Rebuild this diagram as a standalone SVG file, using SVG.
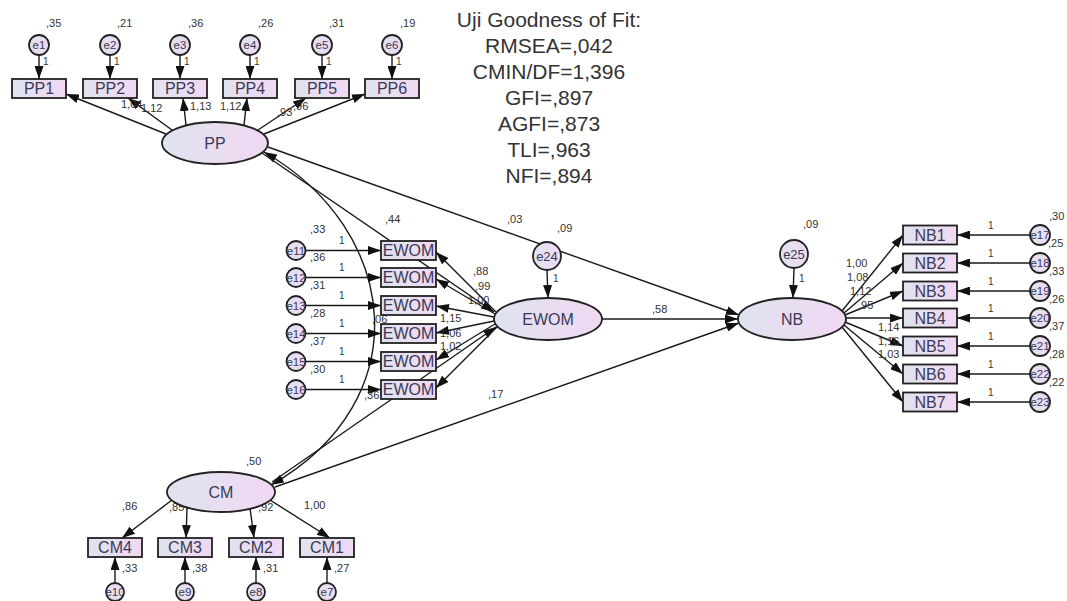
<svg xmlns="http://www.w3.org/2000/svg" width="1067" height="601" viewBox="0 0 1067 601">
<defs>
<linearGradient id="g" x1="0" y1="0" x2="1" y2="0">
<stop offset="0" stop-color="#dfe3ef"/>
<stop offset="1" stop-color="#f1d8f3"/>
</linearGradient>
<marker id="ah" viewBox="0 0 13 9" refX="13" refY="4.5" markerWidth="13" markerHeight="9" orient="auto-start-reverse" markerUnits="userSpaceOnUse">
<path d="M0,0 L13,4.5 L0,9 z" fill="#111"/>
</marker>
<style>
.sh{fill:url(#g);stroke:#222;stroke-width:1.8}
.t{font-family:"Liberation Sans",Arial,sans-serif;font-size:16px;fill:#3a3a55;text-anchor:middle}
.et{font-family:"Liberation Sans",Arial,sans-serif;font-size:11.5px;fill:#3a3a55;text-anchor:middle}
.lb{font-family:"Liberation Sans",Arial,sans-serif;font-size:11px;fill:#333}
.one{font-family:"Liberation Sans",Arial,sans-serif;font-size:10px;fill:#333}
.fit{font-family:"Liberation Sans",Arial,sans-serif;font-size:21px;fill:#333;text-anchor:middle}
.c{stroke:#1a1a1a;stroke-width:1.4;fill:none}
.a{marker-end:url(#ah)}
.b{marker-start:url(#ah);marker-end:url(#ah)}
</style>
</defs>
<rect width="1067" height="601" fill="#fff"/>

<g id="fit">
<text class="fit" x="549" y="27">Uji Goodness of Fit:</text>
<text class="fit" x="549" y="53">RMSEA=,042</text>
<text class="fit" x="549" y="79">CMIN/DF=1,396</text>
<text class="fit" x="549" y="105">GFI=,897</text>
<text class="fit" x="549" y="131">AGFI=,873</text>
<text class="fit" x="549" y="157">TLI=,963</text>
<text class="fit" x="549" y="183">NFI=,894</text>
</g>

<g id="connectors">
<path class="c a" d="M39,55 L39,79"/>
<path class="c a" d="M110,55 L110,79"/>
<path class="c a" d="M180,55 L180,79"/>
<path class="c a" d="M250,55 L250,79"/>
<path class="c a" d="M322,55 L322,79"/>
<path class="c a" d="M392,55 L392,79"/>
<path class="c a" d="M166,134 L66,94"/>
<path class="c a" d="M172,130 L128,98"/>
<path class="c a" d="M186,125 L183,98"/>
<path class="c a" d="M244,125 L247,98"/>
<path class="c a" d="M258,130 L306,98"/>
<path class="c a" d="M264,134 L365,94"/>
<path class="c b" d="M264,152 C400,230 420,400 271,485"/>
<path class="c a" d="M262,153 L494,312"/>
<path class="c a" d="M272,482 L496,327"/>
<path class="c a" d="M268,147 L739,315"/>
<path class="c a" d="M602,319 L738,319"/>
<path class="c a" d="M275,487 L739,323"/>
<path class="c a" d="M547,270 L548,298"/>
<path class="c a" d="M794,268 L793,298"/>
<path class="c a" d="M305.5,250.5 L381,250.5"/>
<path class="c a" d="M305.5,277.5 L381,277.5"/>
<path class="c a" d="M305.5,305.5 L381,305.5"/>
<path class="c a" d="M305.5,333.5 L381,333.5"/>
<path class="c a" d="M305.5,361.5 L381,361.5"/>
<path class="c a" d="M305.5,389.5 L381,389.5"/>
<path class="c a" d="M496,312 L436,252"/>
<path class="c a" d="M495,314 L436,279"/>
<path class="c a" d="M494,317 L436,306"/>
<path class="c a" d="M494,321 L436,333"/>
<path class="c a" d="M495,324 L436,360"/>
<path class="c a" d="M497,327 L436,388"/>
<path class="c a" d="M842,311 L903,235"/>
<path class="c a" d="M844,313 L903,263"/>
<path class="c a" d="M845,315 L903,291"/>
<path class="c a" d="M846,318 L903,318"/>
<path class="c a" d="M845,322 L903,346"/>
<path class="c a" d="M844,325 L903,374"/>
<path class="c a" d="M842,327 L903,402"/>
<path class="c a" d="M1030,235 L957,235"/>
<path class="c a" d="M1030,263 L957,263"/>
<path class="c a" d="M1030,291 L957,291"/>
<path class="c a" d="M1030,318 L957,318"/>
<path class="c a" d="M1030,346 L957,346"/>
<path class="c a" d="M1030,374 L957,374"/>
<path class="c a" d="M1030,402 L957,402"/>
<path class="c a" d="M172,500 L122,538"/>
<path class="c a" d="M187,508 L186,538"/>
<path class="c a" d="M250,508 L254,538"/>
<path class="c a" d="M270,500 L330,538"/>
<path class="c a" d="M115,583 L115,557"/>
<path class="c a" d="M185,583 L185,557"/>
<path class="c a" d="M256,583 L256,557"/>
<path class="c a" d="M327,583 L327,557"/>
</g>

<g id="labels">
<text class="lb" x="46" y="27">,35</text>
<text class="lb" x="117" y="27">,21</text>
<text class="lb" x="188" y="27">,36</text>
<text class="lb" x="258" y="27">,26</text>
<text class="lb" x="329" y="27">,31</text>
<text class="lb" x="400" y="27">,19</text>
<text class="one" x="43" y="65">1</text>
<text class="one" x="114" y="65">1</text>
<text class="one" x="184" y="65">1</text>
<text class="one" x="254" y="65">1</text>
<text class="one" x="326" y="65">1</text>
<text class="one" x="396" y="65">1</text>
<text class="lb" x="121" y="108">1,04</text>
<text class="lb" x="141" y="112">1,12</text>
<text class="lb" x="190" y="110">1,13</text>
<text class="lb" x="220" y="110">1,12</text>
<text class="lb" x="277" y="116">,93</text>
<text class="lb" x="293" y="110">,96</text>
<text class="lb" x="385" y="223">,44</text>
<text class="lb" x="372" y="323">,06</text>
<text class="lb" x="364" y="399">,36</text>
<text class="lb" x="507" y="223">,03</text>
<text class="lb" x="488" y="398">,17</text>
<text class="lb" x="652" y="313">,58</text>
<text class="lb" x="557" y="232">,09</text>
<text class="one" x="553" y="282">1</text>
<text class="lb" x="803" y="228">,09</text>
<text class="one" x="799" y="282">1</text>
<text class="lb" x="310" y="233">,33</text>
<text class="lb" x="310" y="261">,36</text>
<text class="lb" x="310" y="289">,31</text>
<text class="lb" x="310" y="317">,28</text>
<text class="lb" x="310" y="345">,37</text>
<text class="lb" x="310" y="373">,30</text>
<text class="one" x="339" y="244">1</text>
<text class="one" x="339" y="271">1</text>
<text class="one" x="339" y="299">1</text>
<text class="one" x="339" y="327">1</text>
<text class="one" x="339" y="355">1</text>
<text class="one" x="339" y="383">1</text>
<text class="lb" x="473" y="275">,88</text>
<text class="lb" x="475" y="290">,99</text>
<text class="lb" x="468" y="304">1,00</text>
<text class="lb" x="440" y="322">1,15</text>
<text class="lb" x="440" y="337">1,06</text>
<text class="lb" x="440" y="350">1,02</text>
<text class="lb" x="846" y="267">1,00</text>
<text class="lb" x="847" y="281">1,08</text>
<text class="lb" x="850" y="295">1,12</text>
<text class="lb" x="858" y="309">,95</text>
<text class="lb" x="878" y="331">1,14</text>
<text class="lb" x="878" y="345">1,16</text>
<text class="lb" x="878" y="358">1,03</text>
<text class="lb" x="1049" y="220">,30</text>
<text class="lb" x="1048" y="247">,25</text>
<text class="lb" x="1049" y="275">,33</text>
<text class="lb" x="1049" y="303">,26</text>
<text class="lb" x="1049" y="330">,37</text>
<text class="lb" x="1049" y="358">,28</text>
<text class="lb" x="1049" y="386">,22</text>
<text class="one" x="988" y="229">1</text>
<text class="one" x="988" y="257">1</text>
<text class="one" x="988" y="285">1</text>
<text class="one" x="988" y="312">1</text>
<text class="one" x="988" y="340">1</text>
<text class="one" x="988" y="368">1</text>
<text class="one" x="988" y="396">1</text>
<text class="lb" x="246" y="465">,50</text>
<text class="lb" x="122" y="510">,86</text>
<text class="lb" x="169" y="511">,85</text>
<text class="lb" x="258" y="511">,92</text>
<text class="lb" x="304" y="509">1,00</text>
<text class="lb" x="122" y="572">,33</text>
<text class="lb" x="192" y="572">,38</text>
<text class="lb" x="263" y="572">,31</text>
<text class="lb" x="334" y="572">,27</text>
</g>

<g id="PP"><ellipse class="sh" cx="215" cy="143" rx="53" ry="21"/><text class="t" x="215" y="149">PP</text></g>
<g id="EWOM"><ellipse class="sh" cx="548" cy="319" rx="54" ry="21"/><text class="t" x="548" y="325">EWOM</text></g>
<g id="NB"><ellipse class="sh" cx="792" cy="319" rx="54" ry="21"/><text class="t" x="792" y="325">NB</text></g>
<g id="CM"><ellipse class="sh" cx="221" cy="492" rx="54" ry="20"/><text class="t" x="221" y="498">CM</text></g>

<g id="PP1"><rect class="sh" x="12" y="79" width="54" height="19"/><text class="t" x="39" y="94">PP1</text></g>
<g id="PP2"><rect class="sh" x="83" y="79" width="54" height="19"/><text class="t" x="110" y="94">PP2</text></g>
<g id="PP3"><rect class="sh" x="153" y="79" width="54" height="19"/><text class="t" x="180" y="94">PP3</text></g>
<g id="PP4"><rect class="sh" x="223" y="79" width="54" height="19"/><text class="t" x="250" y="94">PP4</text></g>
<g id="PP5"><rect class="sh" x="295" y="79" width="54" height="19"/><text class="t" x="322" y="94">PP5</text></g>
<g id="PP6"><rect class="sh" x="365" y="79" width="54" height="19"/><text class="t" x="392" y="94">PP6</text></g>

<g id="e1"><circle class="sh" cx="39" cy="45" r="10"/><text class="et" x="39" y="49">e1</text></g>
<g id="e2"><circle class="sh" cx="110" cy="45" r="10"/><text class="et" x="110" y="49">e2</text></g>
<g id="e3"><circle class="sh" cx="180" cy="45" r="10"/><text class="et" x="180" y="49">e3</text></g>
<g id="e4"><circle class="sh" cx="250" cy="45" r="10"/><text class="et" x="250" y="49">e4</text></g>
<g id="e5"><circle class="sh" cx="322" cy="45" r="10"/><text class="et" x="322" y="49">e5</text></g>
<g id="e6"><circle class="sh" cx="392" cy="45" r="10"/><text class="et" x="392" y="49">e6</text></g>

<g id="EWOM1"><rect class="sh" x="381" y="241" width="55" height="19"/><text class="t" x="408.5" y="256">EWOM</text></g>
<g id="EWOM2"><rect class="sh" x="381" y="268" width="55" height="19"/><text class="t" x="408.5" y="283">EWOM</text></g>
<g id="EWOM3"><rect class="sh" x="381" y="296" width="55" height="19"/><text class="t" x="408.5" y="311">EWOM</text></g>
<g id="EWOM4"><rect class="sh" x="381" y="324" width="55" height="19"/><text class="t" x="408.5" y="339">EWOM</text></g>
<g id="EWOM5"><rect class="sh" x="381" y="352" width="55" height="19"/><text class="t" x="408.5" y="367">EWOM</text></g>
<g id="EWOM6"><rect class="sh" x="381" y="380" width="55" height="19"/><text class="t" x="408.5" y="395">EWOM</text></g>

<g id="e11"><circle class="sh" cx="296" cy="250.5" r="9.5"/><text class="et" x="296" y="254.5">e11</text></g>
<g id="e12"><circle class="sh" cx="296" cy="277.5" r="9.5"/><text class="et" x="296" y="281.5">e12</text></g>
<g id="e13"><circle class="sh" cx="296" cy="305.5" r="9.5"/><text class="et" x="296" y="309.5">e13</text></g>
<g id="e14"><circle class="sh" cx="296" cy="333.5" r="9.5"/><text class="et" x="296" y="337.5">e14</text></g>
<g id="e15"><circle class="sh" cx="296" cy="361.5" r="9.5"/><text class="et" x="296" y="365.5">e15</text></g>
<g id="e16"><circle class="sh" cx="296" cy="389.5" r="9.5"/><text class="et" x="296" y="393.5">e16</text></g>

<g id="e24"><circle class="sh" cx="547" cy="256" r="14"/><text class="t" x="547" y="261" style="font-size:13px">e24</text></g>
<g id="e25"><circle class="sh" cx="794" cy="254" r="14"/><text class="t" x="794" y="259" style="font-size:13px">e25</text></g>

<g id="NB1"><rect class="sh" x="903" y="225.5" width="54" height="19"/><text class="t" x="930" y="240.5">NB1</text></g>
<g id="NB2"><rect class="sh" x="903" y="253.5" width="54" height="19"/><text class="t" x="930" y="268.5">NB2</text></g>
<g id="NB3"><rect class="sh" x="903" y="281.5" width="54" height="19"/><text class="t" x="930" y="296.5">NB3</text></g>
<g id="NB4"><rect class="sh" x="903" y="308.5" width="54" height="19"/><text class="t" x="930" y="323.5">NB4</text></g>
<g id="NB5"><rect class="sh" x="903" y="336.5" width="54" height="19"/><text class="t" x="930" y="351.5">NB5</text></g>
<g id="NB6"><rect class="sh" x="903" y="364.5" width="54" height="19"/><text class="t" x="930" y="379.5">NB6</text></g>
<g id="NB7"><rect class="sh" x="903" y="392.5" width="54" height="19"/><text class="t" x="930" y="407.5">NB7</text></g>

<g id="e17"><circle class="sh" cx="1040" cy="235" r="10"/><text class="et" x="1040" y="239">e17</text></g>
<g id="e18"><circle class="sh" cx="1040" cy="263" r="10"/><text class="et" x="1040" y="267">e18</text></g>
<g id="e19"><circle class="sh" cx="1040" cy="291" r="10"/><text class="et" x="1040" y="295">e19</text></g>
<g id="e20"><circle class="sh" cx="1040" cy="318" r="10"/><text class="et" x="1040" y="322">e20</text></g>
<g id="e21"><circle class="sh" cx="1040" cy="346" r="10"/><text class="et" x="1040" y="350">e21</text></g>
<g id="e22"><circle class="sh" cx="1040" cy="374" r="10"/><text class="et" x="1040" y="378">e22</text></g>
<g id="e23"><circle class="sh" cx="1040" cy="402" r="10"/><text class="et" x="1040" y="406">e23</text></g>

<g id="CM4"><rect class="sh" x="88" y="538" width="54" height="19"/><text class="t" x="115" y="553">CM4</text></g>
<g id="CM3"><rect class="sh" x="158" y="538" width="54" height="19"/><text class="t" x="185" y="553">CM3</text></g>
<g id="CM2"><rect class="sh" x="229" y="538" width="54" height="19"/><text class="t" x="256" y="553">CM2</text></g>
<g id="CM1"><rect class="sh" x="300" y="538" width="54" height="19"/><text class="t" x="327" y="553">CM1</text></g>

<g id="e10"><circle class="sh" cx="115" cy="592" r="9"/><text class="et" x="115" y="596">e10</text></g>
<g id="e9"><circle class="sh" cx="185" cy="592" r="9"/><text class="et" x="185" y="596">e9</text></g>
<g id="e8"><circle class="sh" cx="256" cy="592" r="9"/><text class="et" x="256" y="596">e8</text></g>
<g id="e7"><circle class="sh" cx="327" cy="592" r="9"/><text class="et" x="327" y="596">e7</text></g>
</svg>
